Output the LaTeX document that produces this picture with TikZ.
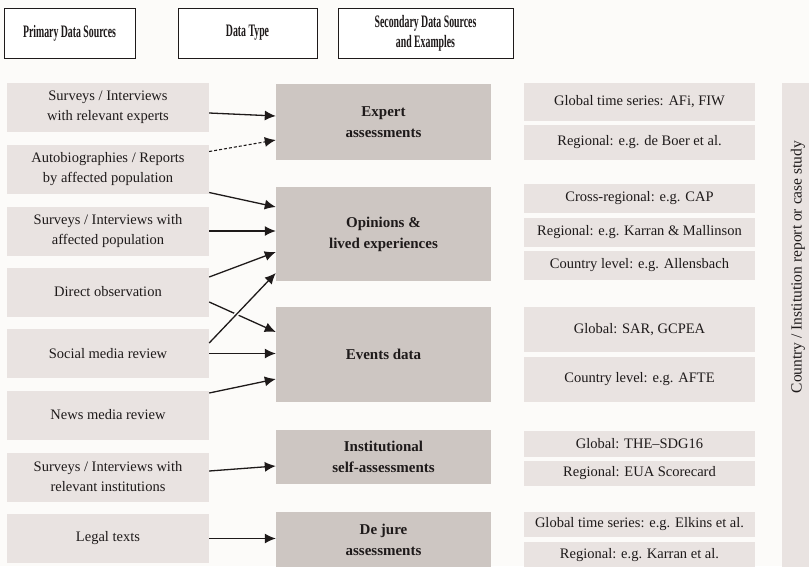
\documentclass[tikz,border=0pt]{standalone}
\usepackage{fontspec}
\setmainfont{Liberation Serif}
\newfontfamily\headfont[FakeStretch=0.56]{Liberation Serif}
\usepackage{xcolor}
\usepackage{tikz}
\usetikzlibrary{arrows.meta,calc}
\definecolor{Ink}{HTML}{1E1A1A}
\definecolor{Paper}{HTML}{FCFBF9}
\definecolor{Source}{HTML}{E9E3E1}
\definecolor{Kind}{HTML}{CDC6C2}

\begin{document}
\begin{tikzpicture}[x=1pt,y=-1pt,>={Latex[length=11pt,width=10pt]},
  head/.style={draw=Ink,line width=0.9pt,fill=white,minimum height=50pt,inner sep=0pt,
    align=center,text=Ink,font=\headfont\bfseries\fontsize{17.5}{20}\selectfont},
  srcbox/.style={fill=Source,minimum width=202pt,minimum height=49pt,inner sep=0pt,
    align=center,text=Ink,font=\fontsize{14.5}{20}\selectfont},
  typebox/.style={fill=Kind,minimum width=215pt,inner sep=0pt,
    align=center,text=Ink,font=\bfseries\fontsize{15}{21}\selectfont},
  exbox/.style={fill=Source,minimum width=231pt,inner sep=0pt,
    align=center,text=Ink,font=\fontsize{14.5}{20}\selectfont},
  link/.style={->,Ink,line width=1.3pt}]
  \useasboundingbox (0,0) rectangle (809,566);
  \fill[Paper] (0,0) rectangle (809,566);

  % column heads
  \node[head,minimum width=131pt] (hprimary) at (69.5,33) {Primary Data Sources};
  \node[head,minimum width=139pt] (htype) at (247.5,33) {Data Type};
  \node[head,minimum width=175pt] (hsecondary) at (425.5,33) {Secondary Data Sources\\and Examples};

  % primary sources
  \node[srcbox] (srvexp) at (108,107.5) {Surveys / Interviews\\with relevant experts};
  \node[srcbox] (autobio) at (108,169.5) {Autobiographies / Reports\\by affected population};
  \node[srcbox] (srvaff) at (108,231) {Surveys / Interviews with\\affected population};
  \node[srcbox] (observe) at (108,292) {Direct observation};
  \node[srcbox] (social) at (108,353.5) {Social media review};
  \node[srcbox] (news) at (108,415) {News media review};
  \node[srcbox] (srvinst) at (108,477) {Surveys / Interviews with\\relevant institutions};
  \node[srcbox] (legal) at (108,538.5) {Legal texts};

  % data types
  \node[typebox,minimum height=76pt] (expert) at (383.5,122) {Expert\\assessments};
  \node[typebox,minimum height=94pt] (opinions) at (383.5,234) {Opinions \&\\lived experiences};
  \node[typebox,minimum height=95pt] (events) at (383.5,354.5) {Events data};
  \node[typebox,minimum height=54pt] (instself) at (383.5,457) {Institutional\\self-assessments};
  \node[typebox,minimum height=56pt] (dejure) at (383.5,540) {De jure\\assessments};

  % secondary sources
  \foreach \y/\h/\n/\t in {
    102/38/afi/{Global time series: AFi, FIW},
    142.5/35/boer/{Regional: e.g. de Boer et al.},
    198.5/29/cap/{Cross-regional: e.g. CAP},
    232.5/29/karmal/{Regional: e.g. Karran \& Mallinson},
    265.5/29/allens/{Country level: e.g. Allensbach},
    329.5/45/sar/{Global: SAR, GCPEA},
    379.5/45/afte/{Country level: e.g. AFTE},
    444/26/sdg/{Global: THE--SDG16},
    473.5/25/eua/{Regional: EUA Scorecard},
    524.5/25/elkins/{Global time series: e.g. Elkins et al.},
    555/26/karran/{Regional: e.g. Karran et al.}}
  {
    \node[exbox,minimum height=\h pt] (ex\n) at (639.5,\y) {\t};
  }

  \fill[Source] (782,83) rectangle (815,570);
  \node[rotate=90,text=Ink,font=\fontsize{15.5}{18}\selectfont] (casestudy) at (798,267)
    {Country / Institution report or case study};

  % links
  \draw[link] ([yshift=-5.5pt]srvexp.east) -- ([yshift=6pt]expert.west);
  \draw[link,line width=1.1pt,dash pattern=on 3pt off 2pt] ([yshift=18pt]autobio.east) -- ([yshift=-18pt]expert.west);
  \draw[link] ([yshift=-23pt]autobio.east) -- ([yshift=27pt]opinions.west);
  \draw[link] (srvaff.east) -- (srvaff.east -| opinions.west);
  \draw[link] ([yshift=15pt]observe.east) -- ([yshift=-18pt]opinions.west);
  \draw[link] ([yshift=-10pt]observe.east) -- ([yshift=22.5pt]events.west);
  \coordinate (socA) at ([yshift=10.5pt]social.east);
  \coordinate (socB) at ([yshift=-39pt]opinions.west);
  \draw[Paper,line width=4.5pt] ($(socA)!0.3!(socB)$) -- ($(socA)!0.52!(socB)$);
  \draw[link] (socA) -- (socB);
  \draw[link] (social.east) -- (social.east -| events.west);
  \draw[link] ([yshift=22pt]news.east) -- ([yshift=-24.5pt]events.west);
  \draw[link] ([yshift=6pt]srvinst.east) -- ([yshift=-9pt]instself.west);
  \draw[link] (legal.east) -- (legal.east -| dejure.west);
\end{tikzpicture}
\end{document}
